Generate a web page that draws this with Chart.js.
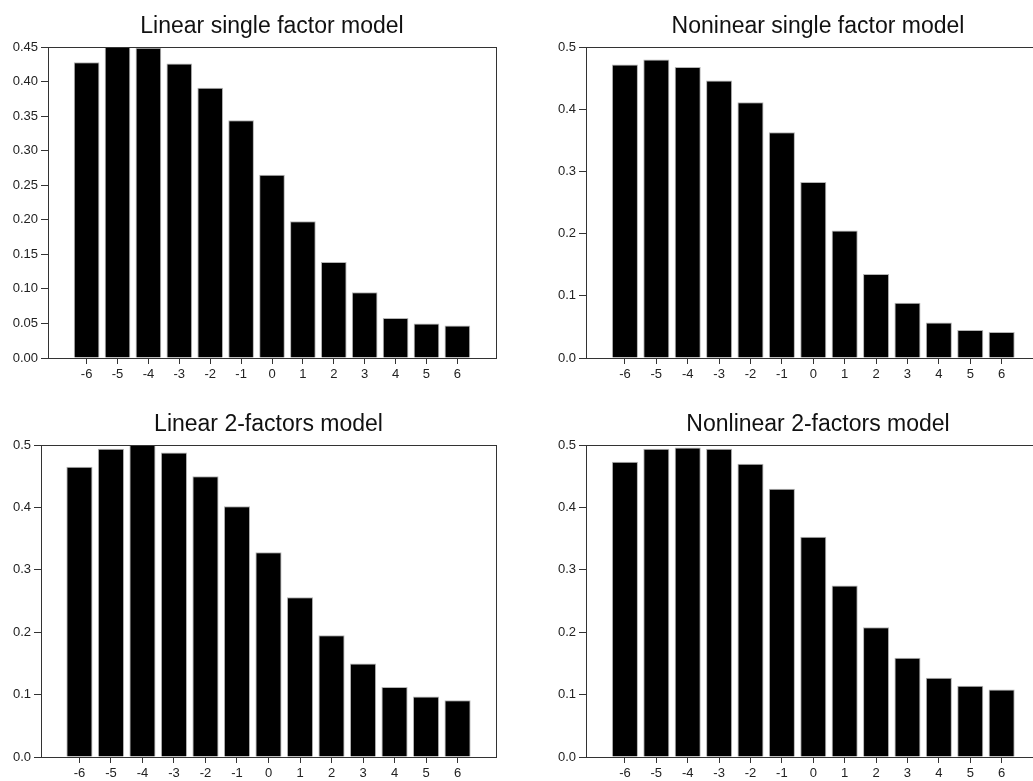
<!DOCTYPE html>
<html>
<head>
<meta charset="utf-8">
<title>Model bars</title>
<script src="https://cdn.jsdelivr.net/npm/chart.js@4.4.0/dist/chart.umd.min.js"></script>
<style>
    html, body { margin: 0; padding: 0; background: #fff; overflow: hidden; width: 1033px; height: 781px; }
    canvas { position: absolute; }
</style>
</head>
<body>
<canvas id="g1" width="520" height="390" style="left:0;top:0"></canvas>
<canvas id="g2" width="545" height="390" style="left:515px;top:0"></canvas>
<canvas id="g3" width="520" height="391" style="left:0;top:390px"></canvas>
<canvas id="g4" width="545" height="391" style="left:515px;top:390px"></canvas>
<script>
const categorias = [-6, -5, -4, -3, -2, -1, 0, 1, 2, 3, 4, 5, 6];

const linealUnFactor = [0.428, 0.451, 0.449, 0.426, 0.391, 0.344, 0.265, 0.198, 0.139, 0.095, 0.058, 0.050, 0.047];
const noLinealUnFactor = [0.472, 0.480, 0.468, 0.446, 0.411, 0.363, 0.283, 0.205, 0.135, 0.089, 0.057, 0.045, 0.042];
const lineal2Factores = [0.465, 0.494, 0.501, 0.488, 0.450, 0.402, 0.328, 0.256, 0.195, 0.150, 0.112, 0.097, 0.091];
const noLineal2Factores = [0.473, 0.494, 0.496, 0.494, 0.470, 0.430, 0.353, 0.275, 0.208, 0.159, 0.127, 0.114, 0.108];

const FUENTE = '"Liberation Sans", Arial, sans-serif';
const COLOR_EJE = '#333';

// titulo centrado sobre el area del grafico y marco completo
const marcoYTitulo = {
    id: 'marcoYTitulo',
    afterDatasetsDraw(chart, args, opts) {
        const ca = chart.chartArea;
        const ctx = chart.ctx;
        ctx.save();
        ctx.strokeStyle = COLOR_EJE;
        ctx.lineWidth = 1;
        const x0 = Math.floor(ca.left) + 0.5;
        const y0 = Math.floor(ca.top) + 0.5;
        const x1 = Math.floor(ca.right) + 0.5;
        const y1 = Math.floor(ca.bottom) + 0.5;
        ctx.strokeRect(x0, y0, x1 - x0, y1 - y0);

        ctx.fillStyle = '#111';
        ctx.font = '23px ' + FUENTE;
        ctx.textAlign = 'center';
        ctx.textBaseline = 'alphabetic';
        ctx.fillText(opts.texto, (ca.left + ca.right) / 2, ca.top - 14);
        ctx.restore();
    }
};

function crearPanel(id, titulo, valores, yMax, yPaso, decimales, xMin, xMax, caja) {
    const ctx = document.getElementById(id).getContext('2d');
    return new Chart(ctx, {
        type: 'bar',
        data: {
            datasets: [{
                data: categorias.map((c, i) => ({ x: c, y: valores[i] })),
                backgroundColor: '#000',
                borderColor: '#b4b4b4',
                borderWidth: 1,
                barPercentage: 0.83,
                categoryPercentage: 1
            }]
        },
        options: {
            responsive: false,
            animation: false,
            layout: {
                padding: { left: 0, top: caja.top, right: caja.right, bottom: 0 }
            },
            plugins: {
                legend: { display: false },
                tooltip: { enabled: false },
                marcoYTitulo: { texto: titulo }
            },
            scales: {
                x: {
                    type: 'linear',
                    offset: false,
                    min: xMin,
                    max: xMax,
                    afterBuildTicks: function(scale) {
                        scale.ticks = categorias.map(v => ({ value: v }));
                    },
                    afterFit: function(scale) {
                        scale.height = caja.xAlto;
                    },
                    grid: {
                        offset: false,
                        drawOnChartArea: false,
                        drawTicks: true,
                        tickLength: 6,
                        color: COLOR_EJE
                    },
                    border: { display: false },
                    ticks: {
                        padding: 3,
                        maxRotation: 0,
                        autoSkip: false,
                        color: '#222',
                        font: { family: FUENTE, size: 13 },
                        callback: v => String(v)
                    }
                },
                y: {
                    min: 0,
                    max: yMax,
                    afterFit: function(scale) {
                        scale.width = caja.yAncho;
                    },
                    grid: {
                        drawOnChartArea: false,
                        drawTicks: true,
                        tickLength: 7,
                        color: COLOR_EJE
                    },
                    border: { display: false },
                    ticks: {
                        stepSize: yPaso,
                        padding: 3,
                        color: '#222',
                        font: { family: FUENTE, size: 13 },
                        callback: v => Number(v).toFixed(decimales)
                    }
                }
            }
        },
        plugins: [marcoYTitulo]
    });
}

crearPanel('g1', 'Linear single factor model', linealUnFactor, 0.45, 0.05, 2, -7.25, 7.25,
    { top: 47, right: 24, yAncho: 48, xAlto: 32 });
crearPanel('g2', 'Noninear single factor model', noLinealUnFactor, 0.5, 0.1, 1, -7.24, 7.54,
    { top: 47, right: 10, yAncho: 71, xAlto: 32 });
crearPanel('g3', 'Linear 2-factors model', lineal2Factores, 0.5, 0.1, 1, -7.22, 7.22,
    { top: 55, right: 24, yAncho: 41, xAlto: 24 });
crearPanel('g4', 'Nonlinear 2-factors model', noLineal2Factores, 0.5, 0.1, 1, -7.24, 7.54,
    { top: 55, right: 10, yAncho: 71, xAlto: 24 });
</script>
</body>
</html>
